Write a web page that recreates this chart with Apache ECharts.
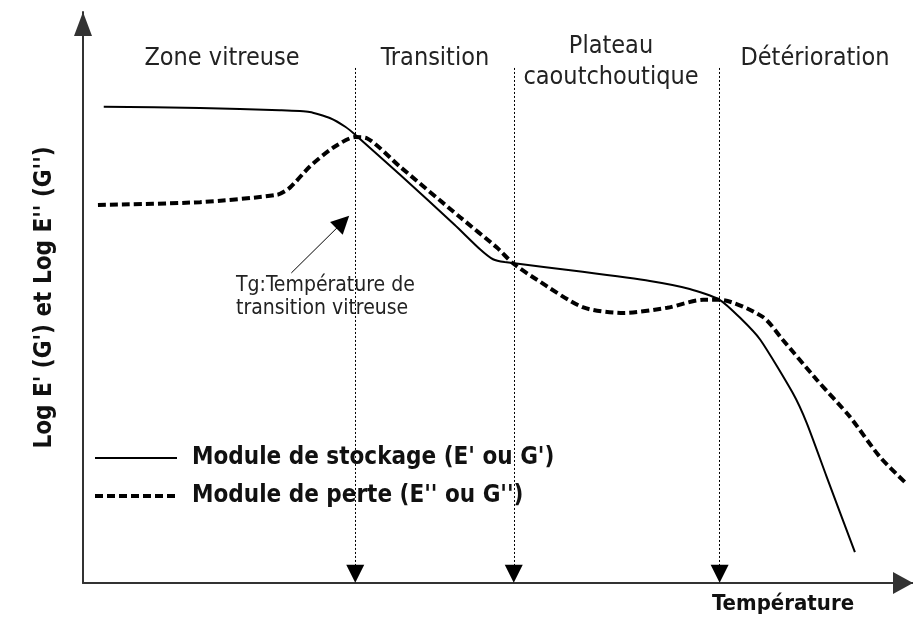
<!DOCTYPE html>
<html>
<head>
<meta charset="utf-8">
<script src="https://cdn.jsdelivr.net/npm/echarts@6/dist/echarts.min.js"></script>
<style>
  html, body { margin: 0; padding: 0; background: #fff; }
  #chart { width: 913px; height: 620px; }
</style>
</head>
<body>
<div id="chart"></div>
<script>
// température (unités arbitraires 0-100) / log module (0-100)
const storageX = [2.5, 14.1, 23.7, 27.3, 29.8, 31.6, 32.8, 38.2, 44.8, 47.8, 49.4, 50.8, 60.2, 68.3, 73.1, 76.7, 79.2, 81.6, 85.5, 87.2, 89.6, 93.0];
const storageY = [83.4, 83.2, 82.8, 82.5, 81.4, 79.9, 78.5, 71.5, 62.7, 58.5, 56.7, 56.2, 54.5, 52.9, 51.5, 49.6, 46.4, 42.6, 33.3, 28.0, 18.6, 5.4];
const lossX = [1.8, 14.1, 23.4, 24.9, 27.3, 30.1, 32.8, 34.2, 38.2, 45.4, 49.9, 51.8, 54.7, 60.2, 65.1, 70.4, 74.7, 76.7, 81.9, 84.3, 88.4, 92.4, 96.0, 99.0];
const lossY = [66.2, 66.7, 68.0, 69.2, 72.9, 76.2, 78.1, 77.9, 72.9, 64.1, 58.7, 56.0, 53.1, 48.3, 47.3, 48.2, 49.6, 49.6, 46.6, 42.6, 35.6, 29.1, 22.1, 17.7];
// limites des zones (Tg, début/fin du plateau)
const dividersX = [32.8, 51.9, 76.7];
const dividerTop = 90.2;
// flèche Tg
const tgArrow = [[25.1, 54.3], [31.3, 63.2]];

const seriesNames = ["Module de stockage (E' ou G')", "Module de perte (E'' ou G'')"];
const zoneLabels = [
  { text: "Zone vitreuse", x: 222, y: 58 },
  { text: "Transition", x: 435, y: 58 },
  { text: "Plateau\ncaoutchoutique", x: 611, y: 62 },
  { text: "Détérioration", x: 815, y: 58 },
];

const FONT = "'DejaVu Sans Condensed', 'DejaVu Sans', sans-serif";

const myChart = echarts.init(document.getElementById("chart"));
const option = {
  animation: false,
  backgroundColor: "#fff",
  grid: { left: 83, right: 0, top: 12, bottom: 37 },
  legend: {
    orient: "vertical",
    left: 93,
    top: 446,
    padding: 0,
    itemWidth: 82,
    itemHeight: 14,
    itemGap: 14,
    selectedMode: false,
    data: [
      { name: seriesNames[0], lineStyle: { width: 2 } },
      { name: seriesNames[1], lineStyle: { width: 4, type: [8, 4] } },
    ],
    itemStyle: { opacity: 0 },
    textStyle: { fontFamily: FONT, fontWeight: "bold", fontSize: 24, color: "#111", padding: [0, 0, 0, 10] },
  },
  xAxis: {
    type: "value",
    min: 0,
    max: 100,
    axisLine: {
      show: true,
      symbol: ["none", "triangle"],
      symbolSize: [22, 20],
      symbolOffset: [0, -10],
      lineStyle: { color: "#333", width: 2 },
    },
    axisTick: { show: false },
    axisLabel: { show: false },
    splitLine: { show: false },
  },
  yAxis: {
    type: "value",
    min: 0,
    max: 100,
    name: "Log E' (G') et Log E'' (G'')",
    nameLocation: "middle",
    nameRotate: 90,
    nameGap: 26,
    nameTextStyle: { fontFamily: FONT, fontWeight: "bold", fontSize: 24, color: "#111" },
    axisLine: {
      show: true,
      symbol: ["none", "triangle"],
      symbolSize: [18, 24],
      symbolOffset: [0, -12],
      lineStyle: { color: "#333", width: 2 },
    },
    axisTick: { show: false },
    axisLabel: { show: false },
    splitLine: { show: false },
  },
  graphic: zoneLabels.map((z) => ({
    type: "text",
    x: z.x,
    y: z.y,
    style: {
      text: z.text,
      font: "25px " + FONT,
      fill: "#222",
      align: "center",
      verticalAlign: "middle",
      lineHeight: 31,
    },
  })).concat([
    {
      type: "text",
      left: 236,
      top: 274,
      style: { text: "Tg:Température de\ntransition vitreuse", font: "21px " + FONT, fill: "#222", lineHeight: 23 },
    },
    {
      type: "text",
      left: 712,
      top: 593,
      style: { text: "Température", font: "bold 22px " + FONT, fill: "#111" },
    },
  ]),
  series: [
    {
      name: seriesNames[0],
      type: "line",
      smooth: 0.2,
      symbol: "none",
      data: storageX.map((x, i) => [x, storageY[i]]),
      lineStyle: { color: "#000", width: 2 },
      itemStyle: { color: "#000" },
      markLine: {
        silent: true,
        symbol: ["none", "triangle"],
        symbolSize: 18,
        label: { show: false },
        lineStyle: { color: "#000", width: 1, type: [2, 2] },
        data: dividersX.map((x) => [{ coord: [x, dividerTop] }, { coord: [x, 1.6] }]).concat([
          [
            { coord: tgArrow[0], lineStyle: { type: "solid", width: 1 } },
            { coord: tgArrow[1] },
          ],
        ]),
      },
    },
    {
      name: seriesNames[1],
      type: "line",
      smooth: 0.25,
      symbol: "none",
      data: lossX.map((x, i) => [x, lossY[i]]),
      lineStyle: { color: "#000", width: 4, type: [8, 4] },
      itemStyle: { color: "#000" },
    },
  ],
};
myChart.setOption(option);
</script>
</body>
</html>
